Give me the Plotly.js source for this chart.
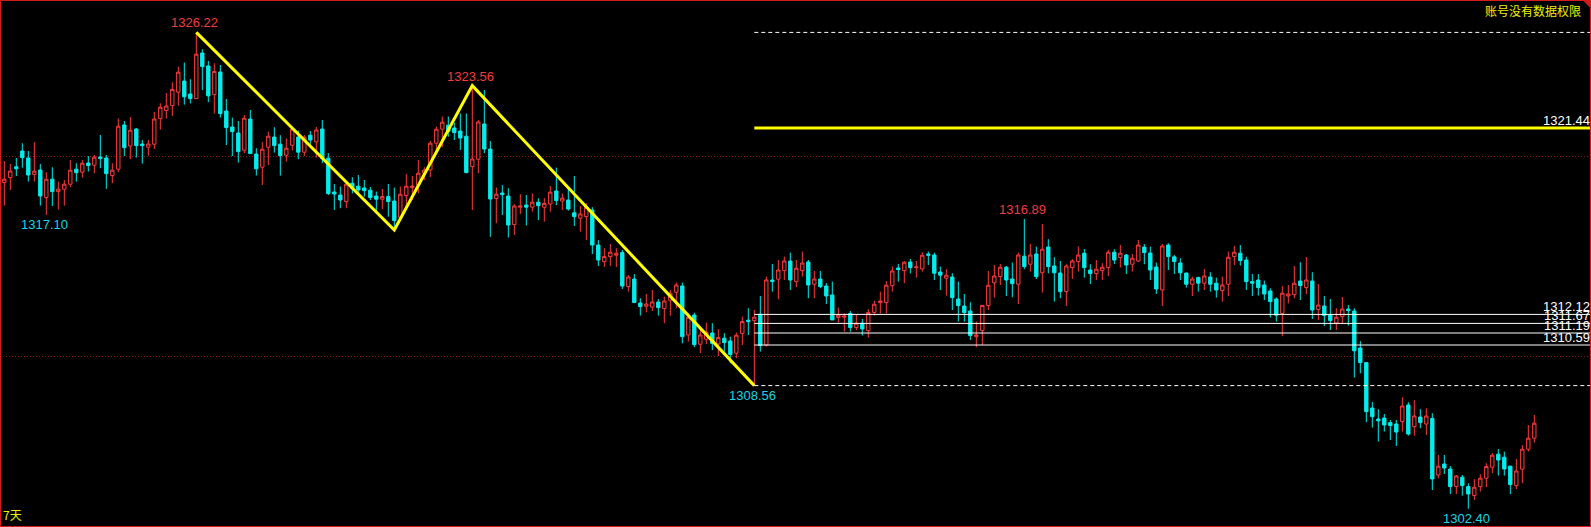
<!DOCTYPE html>
<html>
<head>
<meta charset="utf-8">
<script src="https://cdn.plot.ly/plotly-3.0.1.min.js"></script>
<style>
  html, body { margin: 0; padding: 0; background: #000; }
  #chart { width: 1591px; height: 527px; }
</style>
</head>
<body>
<div id="chart"></div>
<script>
// Gold, 7-day view: one candle per bar, oldest first
const opens = [
  1318.71,1318.96,1319.50,1320.29,1319.94,1319.11,1319.34,1317.96,1318.88,1318.26,
  1318.38,1318.63,1319.38,1319.23,1319.69,1319.58,1319.99,1319.94,1319.06,1319.38,
  1321.59,1320.54,1321.39,1320.64,1320.48,1320.63,1321.91,1322.31,1322.56,1323.23,
  1323.79,1323.14,1322.91,1325.19,1324.54,1323.11,1324.24,1322.29,1321.49,1321.19,
  1320.33,1321.89,1320.14,1319.48,1320.48,1320.99,1320.63,1320.08,1320.58,1320.99,
  1320.23,1321.08,1320.74,1321.39,1319.93,1318.24,1318.09,1317.76,1318.68,1318.53,
  1318.44,1318.33,1318.04,1317.88,1318.01,1317.79,1316.98,1318.06,1318.46,1318.59,
  1319.18,1319.34,1320.68,1321.38,1321.58,1321.44,1321.29,1321.03,1319.51,1319.88,
  1321.64,1320.39,1317.91,1318.19,1318.04,1316.61,1317.48,1317.59,1317.48,1317.73,
  1317.48,1317.64,1318.29,1317.79,1317.84,1317.20,1316.93,1317.01,1317.34,1315.59,
  1314.76,1315.01,1315.08,1315.21,1313.51,1313.89,1312.69,1312.53,1312.49,1312.74,
  1312.41,1312.83,1313.23,1313.54,1311.09,1312.09,1310.63,1310.88,1311.19,1310.64,
  1310.93,1310.79,1310.18,1311.17,1311.83,1311.81,1312.13,1310.59,1313.84,1313.88,
  1314.31,1314.79,1313.76,1314.31,1314.74,1313.63,1313.89,1313.54,1313.09,1311.96,
  1311.98,1312.17,1311.46,1311.68,1311.31,1312.22,1312.71,1312.71,1313.56,1314.44,
  1314.31,1314.74,1314.46,1314.39,1315.14,1315.09,1314.24,1313.93,1313.99,1312.89,
  1312.54,1312.29,1311.01,1311.31,1312.56,1313.70,1314.01,1314.48,1313.89,1313.63,
  1315.03,1314.63,1315.14,1314.20,1315.49,1314.54,1314.19,1313.26,1314.46,1314.76,
  1315.18,1314.34,1314.16,1314.31,1314.46,1315.23,1314.96,1315.09,1314.63,1314.79,
  1315.49,1315.19,1314.49,1313.34,1315.59,1315.00,1314.69,1314.19,1313.63,1313.96,
  1313.68,1313.99,1313.68,1313.31,1313.63,1315.01,1315.18,1314.84,1313.76,1313.84,
  1313.59,1313.29,1312.89,1312.17,1313.04,1313.11,1313.79,1313.46,1313.79,1312.36,
  1312.54,1312.09,1311.69,1312.01,1312.39,1312.29,1310.44,1309.71,1307.44,1306.89,
  1306.94,1306.71,1306.64,1306.76,1307.59,1306.51,1306.99,1306.64,1306.92,1304.09,
  1304.64,1304.39,1303.51,1303.98,1303.51,1303.06,1303.51,1303.93,1304.48,1305.13,
  1304.98,1304.53,1303.56,1304.38,1305.38,1305.93
];
const highs = [
  1319.79,1319.64,1319.94,1320.68,1320.29,1320.73,1319.64,1319.23,1319.48,1318.76,
  1318.84,1319.84,1319.68,1319.84,1320.04,1320.09,1321.09,1320.09,1319.68,1321.91,
  1321.79,1321.99,1321.44,1320.84,1320.84,1322.24,1322.68,1323.19,1323.73,1324.51,
  1324.71,1323.88,1326.22,1325.38,1324.79,1324.68,1324.59,1322.89,1321.96,1321.79,
  1322.09,1322.34,1320.43,1320.73,1321.26,1321.48,1321.08,1320.92,1321.51,1321.31,
  1321.09,1321.29,1321.49,1321.84,1320.18,1318.64,1318.51,1318.81,1318.98,1319.09,
  1318.84,1318.49,1318.26,1318.39,1318.64,1318.46,1318.51,1319.13,1319.04,1319.84,
  1319.48,1320.79,1321.51,1322.01,1322.01,1321.71,1322.17,1322.17,1323.56,1321.84,
  1323.34,1320.79,1318.46,1318.59,1318.43,1317.63,1318.13,1318.09,1318.17,1317.93,
  1317.93,1318.54,1319.46,1318.17,1318.43,1319.04,1317.54,1317.67,1317.48,1315.84,
  1315.43,1315.64,1315.43,1315.34,1314.09,1314.14,1312.93,1313.14,1313.34,1312.88,
  1313.01,1313.34,1313.71,1313.71,1312.17,1312.21,1311.43,1311.71,1311.68,1311.38,
  1311.18,1311.01,1311.21,1312.01,1312.43,1312.34,1313.04,1314.01,1314.64,1314.84,
  1315.01,1315.21,1314.84,1315.26,1314.84,1314.29,1314.29,1313.68,1313.76,1312.46,
  1312.17,1312.29,1312.09,1311.89,1312.39,1312.81,1313.26,1313.79,1314.51,1314.64,
  1314.79,1314.89,1314.79,1315.23,1315.26,1315.21,1314.51,1314.38,1314.18,1313.76,
  1313.14,1312.73,1311.76,1312.57,1314.29,1314.59,1314.64,1314.54,1314.71,1315.21,
  1316.89,1315.64,1315.51,1316.64,1315.88,1314.98,1314.79,1314.63,1314.88,1315.51,
  1315.39,1314.63,1314.84,1314.68,1315.34,1315.38,1315.59,1315.14,1315.14,1315.84,
  1315.64,1315.51,1314.71,1315.64,1315.68,1315.09,1314.93,1314.20,1314.01,1314.01,
  1314.39,1314.23,1313.96,1314.01,1315.26,1315.54,1315.59,1315.01,1314.14,1314.14,
  1313.81,1313.43,1312.97,1313.54,1313.59,1314.54,1314.73,1314.99,1314.23,1313.64,
  1313.04,1312.89,1312.43,1312.99,1312.59,1312.43,1310.79,1309.71,1307.74,1307.38,
  1307.14,1306.84,1306.84,1307.98,1307.73,1307.84,1307.38,1307.43,1307.18,1305.09,
  1305.09,1304.54,1304.09,1304.09,1303.68,1303.88,1304.13,1304.68,1305.18,1305.39,
  1305.26,1304.56,1304.89,1305.59,1306.59,1307.09
];
const lows = [
  1317.56,1318.34,1319.04,1319.46,1318.76,1318.76,1317.56,1317.10,1317.54,1317.36,
  1317.56,1318.48,1318.76,1318.96,1319.26,1319.18,1319.43,1318.40,1318.68,1319.24,
  1320.04,1319.88,1319.96,1319.66,1320.06,1320.39,1321.36,1321.91,1322.04,1322.56,
  1322.61,1322.67,1322.91,1323.34,1322.73,1322.17,1321.96,1320.59,1320.04,1319.71,
  1320.18,1320.14,1319.06,1318.59,1319.59,1320.21,1319.06,1319.76,1320.31,1319.88,
  1320.04,1320.48,1319.96,1319.68,1318.09,1317.34,1317.43,1317.43,1318.17,1318.09,
  1318.01,1317.84,1317.18,1317.38,1317.01,1316.34,1316.84,1317.51,1317.84,1318.17,
  1318.84,1318.98,1320.31,1320.48,1321.01,1320.84,1320.34,1319.18,1317.34,1319.18,
  1320.18,1316.00,1316.68,1317.09,1315.97,1316.09,1317.14,1316.56,1317.26,1316.84,
  1316.76,1317.26,1317.59,1317.34,1317.31,1316.54,1316.26,1315.84,1315.14,1314.54,
  1314.49,1314.54,1314.49,1313.39,1313.26,1312.71,1312.06,1312.22,1312.29,1312.06,
  1311.68,1312.06,1312.43,1310.67,1310.76,1310.48,1310.18,1310.64,1310.34,1310.04,
  1310.26,1309.68,1309.93,1310.59,1311.09,1308.56,1310.26,1310.51,1313.26,1312.88,
  1313.84,1313.34,1313.48,1314.01,1312.93,1312.93,1313.43,1312.64,1311.84,1311.71,
  1311.26,1311.26,1311.34,1311.06,1310.96,1312.06,1312.17,1312.17,1313.26,1313.76,
  1313.68,1314.17,1313.96,1314.26,1314.59,1313.84,1313.34,1313.06,1312.34,1311.76,
  1311.76,1310.84,1310.48,1310.59,1312.34,1312.96,1313.59,1313.04,1312.98,1312.64,
  1314.38,1314.26,1313.89,1313.21,1314.17,1312.76,1312.93,1312.54,1313.89,1314.26,
  1313.96,1313.64,1313.84,1313.84,1314.04,1314.64,1314.46,1314.14,1314.26,1314.74,
  1314.63,1313.84,1313.14,1312.54,1314.34,1314.14,1313.84,1313.46,1313.04,1313.26,
  1313.34,1313.26,1312.96,1312.76,1313.04,1314.59,1314.56,1313.34,1313.04,1313.06,
  1312.84,1311.96,1311.76,1311.03,1312.67,1312.93,1312.84,1313.14,1311.89,1311.84,
  1311.54,1311.34,1311.34,1311.68,1311.56,1308.96,1309.17,1306.73,1306.46,1305.76,
  1306.26,1305.84,1305.54,1306.26,1306.06,1306.06,1306.43,1306.09,1303.34,1303.93,
  1304.14,1303.14,1303.14,1303.06,1302.40,1302.84,1303.26,1303.48,1304.18,1304.06,
  1304.06,1303.14,1303.39,1303.68,1305.26,1305.70
];
const closes = [
  1318.88,1319.29,1319.40,1319.96,1319.09,1319.28,1318.04,1318.88,1318.26,1318.38,
  1318.63,1319.33,1319.21,1319.68,1319.56,1319.98,1319.91,1319.16,1319.33,1321.53,
  1320.46,1321.33,1320.56,1320.56,1320.64,1321.89,1322.48,1322.54,1323.37,1324.23,
  1323.00,1322.91,1325.13,1324.51,1323.05,1324.27,1322.16,1321.46,1321.26,1320.26,
  1321.93,1320.16,1319.40,1320.38,1321.03,1320.56,1320.06,1320.43,1321.38,1320.23,
  1320.98,1320.84,1321.34,1319.93,1318.16,1318.14,1317.84,1318.63,1318.43,1318.34,
  1318.31,1317.96,1317.88,1318.01,1317.76,1316.81,1318.13,1318.53,1318.54,1319.18,
  1319.34,1320.68,1321.38,1321.73,1321.26,1321.21,1320.94,1319.21,1319.89,1321.74,
  1320.39,1317.89,1318.13,1318.11,1316.59,1317.54,1317.54,1317.48,1317.73,1317.56,
  1317.67,1318.23,1317.81,1317.93,1317.39,1317.01,1317.14,1317.48,1315.59,1314.84,
  1315.01,1315.23,1315.18,1313.54,1313.99,1312.71,1312.51,1312.64,1312.74,1312.46,
  1312.79,1313.18,1313.59,1311.01,1311.98,1310.61,1311.09,1311.23,1310.67,1310.96,
  1310.71,1310.11,1311.08,1311.76,1311.76,1311.98,1310.56,1313.84,1313.76,1314.34,
  1314.79,1313.84,1314.43,1314.69,1313.59,1313.89,1313.51,1313.04,1311.84,1312.08,
  1312.04,1311.46,1311.68,1311.39,1312.22,1312.63,1312.79,1313.58,1314.29,1314.36,
  1314.73,1314.46,1314.49,1315.08,1315.08,1314.18,1314.08,1314.08,1312.96,1312.56,
  1312.21,1311.06,1311.09,1312.57,1313.58,1314.04,1314.48,1313.84,1313.66,1315.09,
  1314.51,1315.09,1314.01,1315.38,1314.51,1314.20,1313.26,1314.54,1314.79,1315.09,
  1314.46,1314.16,1314.38,1314.48,1315.23,1314.84,1315.18,1314.59,1314.93,1315.59,
  1315.21,1314.34,1313.39,1315.54,1315.01,1314.76,1314.20,1313.63,1313.89,1313.68,
  1314.04,1313.63,1313.34,1313.59,1314.98,1315.23,1314.81,1313.76,1313.68,1313.46,
  1313.14,1312.76,1312.08,1313.18,1313.14,1313.68,1313.56,1313.84,1312.34,1312.59,
  1312.06,1311.81,1311.98,1312.39,1312.31,1310.30,1309.71,1307.26,1307.01,1306.80,
  1306.59,1306.56,1306.24,1307.54,1306.14,1307.04,1306.71,1307.04,1303.89,1304.53,
  1304.44,1303.51,1304.04,1303.56,1303.14,1303.48,1303.93,1304.51,1305.08,1304.84,
  1304.39,1303.61,1304.29,1305.38,1305.93,1306.68
];

// Swing points joined by the zigzag (bar index, price)
const zigzagIdx = [32, 65, 78, 125];
const zigzagVal = [1326.22, 1316.34, 1323.56, 1308.56];

// Extreme-price labels: bar index, value, and whether it marks a high
const extremeIdx = [32, 78, 170, 7, 125, 244];
const extremeVal = [1326.22, 1323.56, 1316.89, 1317.10, 1308.56, 1302.40];
const extremeIsHigh = [true, true, true, false, false, false];

// Horizontal levels drawn from the last swing low to the right edge
const levelStart = 125;
const keyLevel = 1321.44;
const rangeLevels = [1326.22, 1308.56];
const supportLevels = [1312.12, 1311.67, 1311.19, 1310.59];

const cornerNote = '账号没有数据权限';
const periodNote = '7天';

const UP = '#ff3b3b';
const DOWN = '#00eeee';
const GOLD = '#ffff00';
const LABEL_FONT = 'Liberation Sans, Arial, sans-serif';

const xs = opens.map((_, i) => i);
const xRange = [-0.717, 264.45];
const yRange = [1301.49, 1327.84];

const traces = [
  {
    type: 'candlestick',
    x: xs, open: opens, high: highs, low: lows, close: closes,
    increasing: { line: { color: UP, width: 1 }, fillcolor: '#000000' },
    decreasing: { line: { color: DOWN, width: 1 }, fillcolor: DOWN },
    whiskerwidth: 0,
    hoverinfo: 'skip',
    showlegend: false
  },
  {
    type: 'scatter', mode: 'lines',
    x: zigzagIdx, y: zigzagVal,
    line: { color: GOLD, width: 3 },
    hoverinfo: 'skip', showlegend: false
  }
];

const shapes = [];
// yellow key level
shapes.push({
  type: 'line', xref: 'x', yref: 'y',
  x0: levelStart, x1: xRange[1], y0: keyLevel, y1: keyLevel,
  line: { color: GOLD, width: 3 }
});
// dashed range bounds
rangeLevels.forEach(v => shapes.push({
  type: 'line', xref: 'x', yref: 'y',
  x0: levelStart, x1: xRange[1], y0: v, y1: v,
  line: { color: '#ffffff', width: 1, dash: '4px,3px' }
}));
// solid white support levels
supportLevels.forEach(v => shapes.push({
  type: 'line', xref: 'x', yref: 'y',
  x0: levelStart, x1: xRange[1], y0: v, y1: v,
  line: { color: '#ffffff', width: 1 }
}));
// red frame and corner mark
shapes.push({
  type: 'rect', xref: 'paper', yref: 'paper', x0: 0, x1: 1, y0: 0, y1: 1,
  line: { color: '#d41c1c', width: 2 }, fillcolor: 'rgba(0,0,0,0)'
});
shapes.push({
  type: 'path', xref: 'paper', yref: 'paper',
  path: 'M 0.9947 1 L 1 1 L 1 0.984 Z',
  line: { color: '#d41c1c', width: 0 }, fillcolor: '#d41c1c'
});

const annotations = [];
extremeIdx.forEach((idx, k) => {
  const high = extremeIsHigh[k];
  annotations.push({
    x: idx, y: extremeVal[k], xref: 'x', yref: 'y',
    text: extremeVal[k].toFixed(2), showarrow: false,
    xanchor: 'center', yanchor: high ? 'bottom' : 'top',
    xshift: -2, yshift: high ? 0 : 0,
    font: { family: LABEL_FONT, size: 13, color: high ? '#f03c3c' : '#19d6e6' }
  });
});
[keyLevel].concat(supportLevels).forEach(v => annotations.push({
  x: 1, xref: 'paper', y: v, yref: 'y',
  text: v.toFixed(2), showarrow: false,
  xanchor: 'right', yanchor: 'bottom', xshift: 1, yshift: -2,
  font: { family: LABEL_FONT, size: 13, color: '#ffffff' }
}));
annotations.push({
  x: 1, xref: 'paper', y: 1, yref: 'paper',
  text: cornerNote, showarrow: false,
  xanchor: 'right', yanchor: 'top', xshift: -8, yshift: 0,
  font: { family: 'Noto Sans CJK SC, sans-serif', size: 12, color: '#f0f000' }
});
annotations.push({
  x: 0, xref: 'paper', y: 0, yref: 'paper',
  text: periodNote, showarrow: false,
  xanchor: 'left', yanchor: 'bottom', xshift: 1, yshift: 2,
  font: { family: 'Noto Sans CJK SC, sans-serif', size: 12, color: '#f0f000' }
});

const layout = {
  width: 1591, height: 527,
  margin: { l: 0, r: 0, t: 0, b: 0, pad: 0 },
  paper_bgcolor: '#000000', plot_bgcolor: '#000000',
  showlegend: false,
  hovermode: false,
  boxgap: 0.2,
  xaxis: {
    range: xRange, showgrid: false, zeroline: false, showticklabels: false,
    showline: false, ticks: '', rangeslider: { visible: false }, fixedrange: true
  },
  yaxis: {
    range: yRange, showgrid: true, gridcolor: '#8c1414', griddash: '1px,2px', gridwidth: 1,
    tick0: 1300, dtick: 10, zeroline: false, showticklabels: false, ticks: '',
    showline: false, fixedrange: true
  },
  shapes: shapes,
  annotations: annotations
};

Plotly.newPlot('chart', traces, layout, { staticPlot: true, displayModeBar: false });
</script>
</body>
</html>
